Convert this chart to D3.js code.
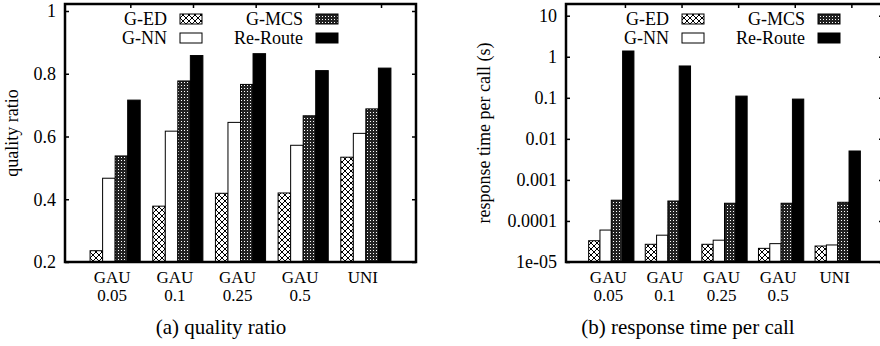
<!DOCTYPE html>
<html>
<head>
<meta charset="utf-8">
<script src="https://cdn.jsdelivr.net/npm/d3@7"></script>
<style>
  body { margin: 0; background: #fff; }
  svg text { font-family: "Liberation Serif", "Times New Roman", serif; fill: #000; }
</style>
</head>
<body>
<svg id="chart" width="880" height="346"></svg>
<script>
// ---- data ----
const categories = [["GAU", "0.05"], ["GAU", "0.1"], ["GAU", "0.25"], ["GAU", "0.5"], ["UNI"]];
const seriesNames = ["G-ED", "G-NN", "G-MCS", "Re-Route"];

// (a) quality ratio
const qualityGED = [0.236, 0.378, 0.419, 0.420, 0.534];
const qualityGNN = [0.467, 0.617, 0.645, 0.572, 0.610];
const qualityGMCS = [0.538, 0.777, 0.766, 0.666, 0.688];
const qualityReRoute = [0.716, 0.858, 0.864, 0.810, 0.818];
const qualityTicks = [0.2, 0.4, 0.6, 0.8, 1];

// (b) response time per call (s)
const timeGED = [3.3e-5, 2.7e-5, 2.7e-5, 2.15e-5, 2.45e-5];
const timeGNN = [6.0e-5, 4.5e-5, 3.4e-5, 2.8e-5, 2.6e-5];
const timeGMCS = [3.2e-4, 3.06e-4, 2.7e-4, 2.7e-4, 2.85e-4];
const timeReRoute = [1.38, 0.596, 0.11, 0.093, 5.06e-3];
const timeTicks = [1e-5, 1e-4, 1e-3, 1e-2, 0.1, 1, 10];
const timeTickLabels = ["1e-05", "0.0001", "0.001", "0.01", "0.1", "1", "10"];

const FONT = 18;

const svg = d3.select('#chart');
const defs = svg.append('defs');

// crosshatch for G-ED
const hatch = defs.append('pattern')
  .attr('id', 'hatch').attr('patternUnits', 'userSpaceOnUse')
  .attr('width', 6).attr('height', 6);
hatch.append('rect').attr('width', 6).attr('height', 6).attr('fill', '#fff');
hatch.append('path').attr('d', 'M0,0L6,6M6,0L0,6M-1,5L1,7M5,-1L7,1M-1,1L1,-1M5,7L7,5')
  .attr('stroke', '#000').attr('stroke-width', 1);

// dense dotted fill for G-MCS
const dots = defs.append('pattern')
  .attr('id', 'dots').attr('patternUnits', 'userSpaceOnUse')
  .attr('width', 3).attr('height', 3);
dots.append('rect').attr('width', 3).attr('height', 3).attr('fill', '#222');
dots.append('rect').attr('x', 1).attr('y', 1).attr('width', 1).attr('height', 1).attr('fill', '#fff');

const fills = ['url(#hatch)', '#fff', 'url(#dots)', '#000'];

function drawPanel(opt) {
  const x = d3.scaleLinear().domain([-0.8, 4.8]).range([opt.left, opt.right]);
  const y = opt.y;
  const g = svg.append('g');
  const w = (x(1) - x(0)) * 0.2;

  const data = [];
  opt.values.forEach((vals, j) => vals.forEach((v, i) => data.push({ i, j, v })));

  g.selectAll('rect.bar').data(data).join('rect')
    .attr('class', 'bar')
    .attr('x', d => x(d.i) + (d.j - 2) * w)
    .attr('width', w)
    .attr('y', d => y(d.v))
    .attr('height', d => opt.bottom - y(d.v))
    .attr('fill', d => fills[d.j])
    .attr('stroke', '#000').attr('stroke-width', 1);

  // y axis, ticks inward on both sides
  const yAxis = g.append('g').attr('transform', `translate(${opt.left},0)`)
    .call(d3.axisLeft(y).tickValues(opt.ticks).tickFormat((d, k) => opt.tickLabels[k])
      .tickSizeInner(-4).tickSizeOuter(0).tickPadding(9));
  yAxis.attr('font-family', null).attr('font-size', FONT);
  yAxis.select('.domain').remove();
  yAxis.selectAll('line').attr('stroke', '#000').attr('stroke-width', 1.5);

  const yAxisR = g.append('g').attr('transform', `translate(${opt.right},0)`)
    .call(d3.axisRight(y).tickValues(opt.ticks).tickFormat('').tickSizeInner(-4).tickSizeOuter(0));
  yAxisR.select('.domain').remove();
  yAxisR.selectAll('line').attr('stroke', '#000').attr('stroke-width', 1.5);

  // mirrored x ticks on top
  const topTicks = d3.range(5).map(i => i + 0.25);
  g.selectAll('line.xt').data(topTicks).join('line')
    .attr('x1', d => x(d)).attr('x2', d => x(d))
    .attr('y1', opt.top).attr('y2', opt.top + 4)
    .attr('stroke', '#000').attr('stroke-width', 1.5);

  // frame
  g.append('rect')
    .attr('x', opt.left).attr('y', opt.top)
    .attr('width', opt.right - opt.left).attr('height', opt.bottom - opt.top)
    .attr('fill', 'none').attr('stroke', '#000').attr('stroke-width', 2.5);

  // category labels (two lines)
  categories.forEach((lines, i) => {
    lines.forEach((s, k) => {
      g.append('text')
        .attr('x', x(i) - 3).attr('y', 283 + k * 18)
        .attr('text-anchor', 'middle').attr('font-size', 17)
        .text(s);
    });
  });

  // y title
  g.append('text')
    .attr('transform', `translate(${opt.titleX},133) rotate(-90)`)
    .attr('text-anchor', 'middle').attr('font-size', FONT)
    .text(opt.yTitle);

  // caption
  g.append('text')
    .attr('x', opt.captionX).attr('y', 334)
    .attr('text-anchor', 'middle').attr('font-size', 21)
    .text(opt.caption);

  // legend
  const legendCols = [[0, 1], [2, 3]];
  legendCols.forEach((col, c) => {
    col.forEach((j, r) => {
      const cy = 19 + r * 19;
      const sx = opt.legendX[c];
      g.append('text')
        .attr('x', sx - 13).attr('y', cy + 6)
        .attr('text-anchor', 'end').attr('font-size', FONT)
        .text(seriesNames[j]);
      g.append('rect')
        .attr('x', sx).attr('y', cy - 5)
        .attr('width', 22).attr('height', 10)
        .attr('fill', fills[j]).attr('stroke', '#000').attr('stroke-width', 1);
    });
  });
}

drawPanel({
  left: 65, right: 416, top: 4, bottom: 262,
  y: d3.scaleLinear().domain([0.2, 1]).range([262, 11]),
  ticks: qualityTicks,
  tickLabels: qualityTicks.map(d => d === 1 ? '1' : d3.format('.1f')(d)),
  values: [qualityGED, qualityGNN, qualityGMCS, qualityReRoute],
  yTitle: 'quality ratio', titleX: 18,
  caption: '(a) quality ratio', captionX: 221,
  legendX: [180, 316]
});

drawPanel({
  left: 566, right: 883, top: 4, bottom: 262,
  y: d3.scaleLog().domain([1e-5, 10]).range([262, 15.7]),
  ticks: timeTicks,
  tickLabels: timeTickLabels,
  values: [timeGED, timeGNN, timeGMCS, timeReRoute],
  yTitle: 'response time per call (s)', titleX: 490,
  caption: '(b) response time per call', captionX: 688,
  legendX: [682, 818]
});
</script>
</body>
</html>
